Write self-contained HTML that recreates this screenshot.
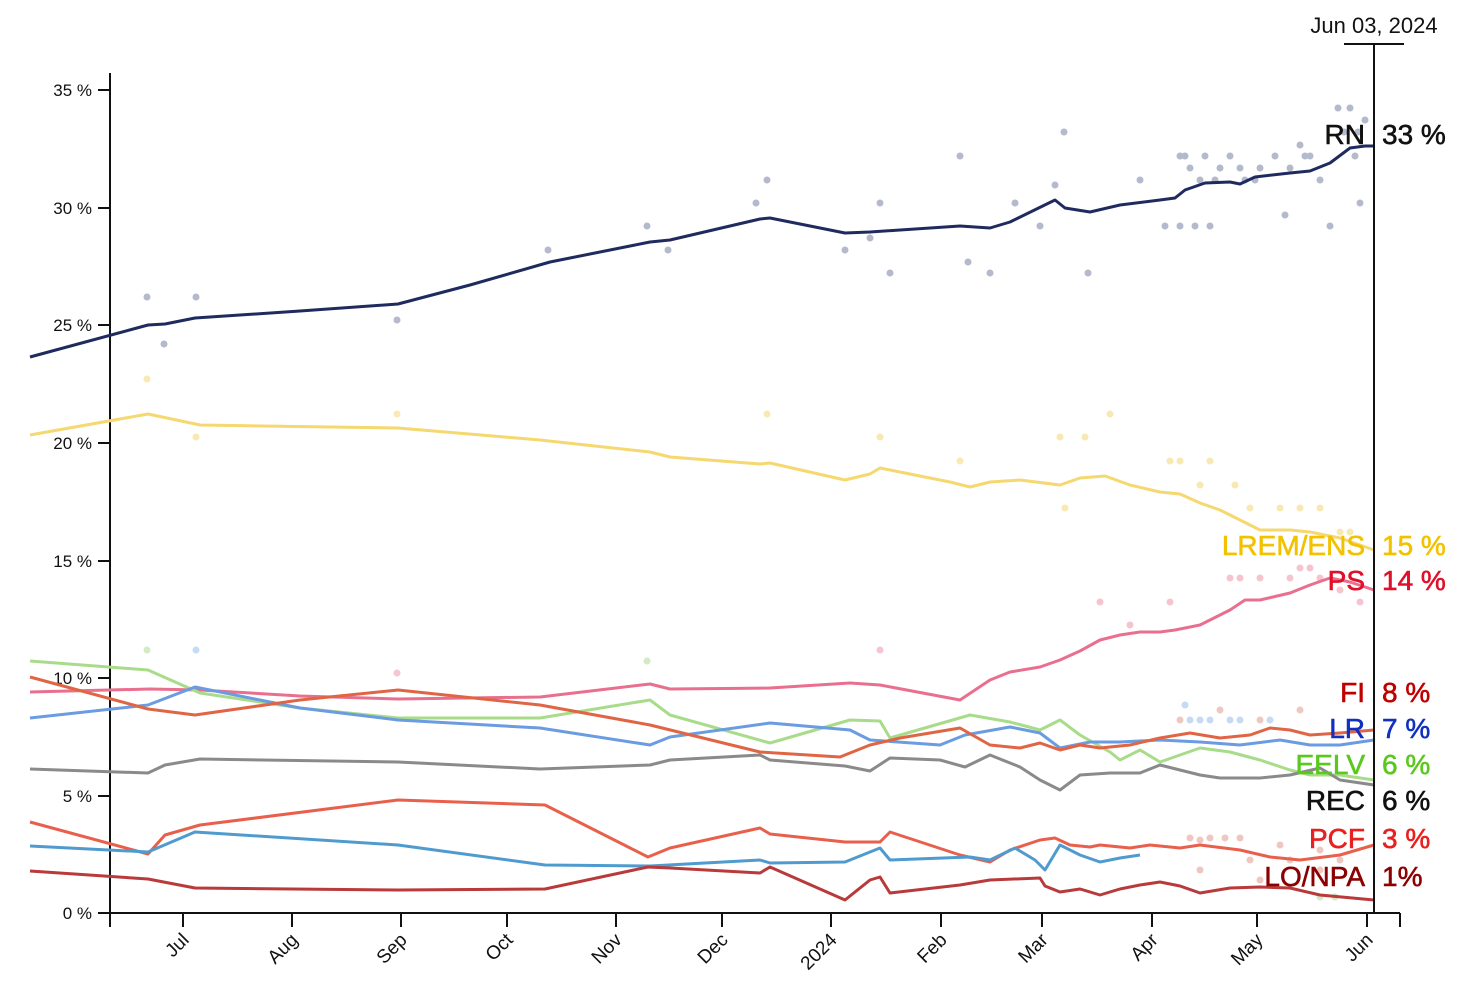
<!DOCTYPE html>
<html><head><meta charset="utf-8"><style>
body{margin:0;background:#fff;}
svg{display:block;font-family:"Liberation Sans",sans-serif;}
.yl{font-size:17px;text-anchor:end;fill:#111}
.xl{font-size:19px;text-anchor:end;fill:#111}
.ln{fill:none;stroke-width:3;stroke-linejoin:round}
.lab{font-size:28px;text-anchor:end;stroke-width:0.6}
.val{font-size:28px;stroke-width:0.6}
</style></head><body>
<svg width="1477" height="989" viewBox="0 0 1477 989">
<!-- dots -->
<g fill="#a9adc4" opacity="0.85">
<circle cx="147" cy="297" r="3.5"/><circle cx="164" cy="344" r="3.5"/><circle cx="196" cy="297" r="3.5"/><circle cx="397" cy="320" r="3.5"/><circle cx="548" cy="250" r="3.5"/><circle cx="647" cy="226" r="3.5"/><circle cx="668" cy="250" r="3.5"/><circle cx="756" cy="203" r="3.5"/><circle cx="767" cy="180" r="3.5"/><circle cx="845" cy="250" r="3.5"/><circle cx="870" cy="238" r="3.5"/><circle cx="880" cy="203" r="3.5"/><circle cx="890" cy="273" r="3.5"/><circle cx="960" cy="156" r="3.5"/><circle cx="968" cy="262" r="3.5"/><circle cx="990" cy="273" r="3.5"/><circle cx="1015" cy="203" r="3.5"/><circle cx="1040" cy="226" r="3.5"/><circle cx="1055" cy="185" r="3.5"/><circle cx="1064" cy="132" r="3.5"/><circle cx="1088" cy="273" r="3.5"/><circle cx="1140" cy="180" r="3.5"/><circle cx="1165" cy="226" r="3.5"/>
<circle cx="1180" cy="156" r="3.5"/><circle cx="1190" cy="168" r="3.5"/><circle cx="1200" cy="180" r="3.5"/><circle cx="1210" cy="226" r="3.5"/><circle cx="1220" cy="168" r="3.5"/><circle cx="1230" cy="156" r="3.5"/><circle cx="1245" cy="180" r="3.5"/><circle cx="1260" cy="168" r="3.5"/><circle cx="1275" cy="156" r="3.5"/><circle cx="1285" cy="215" r="3.5"/><circle cx="1300" cy="145" r="3.5"/><circle cx="1310" cy="156" r="3.5"/><circle cx="1330" cy="226" r="3.5"/><circle cx="1338" cy="108" r="3.5"/><circle cx="1350" cy="108" r="3.5"/><circle cx="1355" cy="156" r="3.5"/><circle cx="1360" cy="203" r="3.5"/><circle cx="1365" cy="120" r="3.5"/>
<circle cx="1185" cy="156" r="3.5"/><circle cx="1205" cy="156" r="3.5"/><circle cx="1215" cy="180" r="3.5"/><circle cx="1240" cy="168" r="3.5"/><circle cx="1255" cy="180" r="3.5"/><circle cx="1290" cy="168" r="3.5"/><circle cx="1305" cy="156" r="3.5"/><circle cx="1320" cy="180" r="3.5"/><circle cx="1344" cy="132" r="3.5"/><circle cx="1358" cy="132" r="3.5"/><circle cx="1195" cy="226" r="3.5"/><circle cx="1180" cy="226" r="3.5"/>
</g>
<g fill="#f7e3a0" opacity="0.8">
<circle cx="147" cy="379" r="3.5"/><circle cx="196" cy="437" r="3.5"/><circle cx="397" cy="414" r="3.5"/><circle cx="767" cy="414" r="3.5"/><circle cx="880" cy="437" r="3.5"/><circle cx="960" cy="461" r="3.5"/><circle cx="1110" cy="414" r="3.5"/><circle cx="1170" cy="461" r="3.5"/><circle cx="1200" cy="485" r="3.5"/><circle cx="1235" cy="485" r="3.5"/><circle cx="1280" cy="508" r="3.5"/><circle cx="1320" cy="508" r="3.5"/><circle cx="1350" cy="532" r="3.5"/>
<circle cx="1180" cy="461" r="3.5"/><circle cx="1210" cy="461" r="3.5"/><circle cx="1250" cy="508" r="3.5"/><circle cx="1300" cy="508" r="3.5"/><circle cx="1340" cy="532" r="3.5"/><circle cx="1060" cy="437" r="3.5"/><circle cx="1085" cy="437" r="3.5"/><circle cx="1065" cy="508" r="3.5"/>
</g>
<g fill="#f4b6c4" opacity="0.8">
<circle cx="1100" cy="602" r="3.5"/><circle cx="1130" cy="625" r="3.5"/><circle cx="1170" cy="602" r="3.5"/><circle cx="1230" cy="578" r="3.5"/><circle cx="1260" cy="578" r="3.5"/><circle cx="1300" cy="568" r="3.5"/><circle cx="1340" cy="590" r="3.5"/><circle cx="880" cy="650" r="3.5"/><circle cx="397" cy="673" r="3.5"/>
<circle cx="1240" cy="578" r="3.5"/><circle cx="1290" cy="578" r="3.5"/><circle cx="1310" cy="568" r="3.5"/><circle cx="1320" cy="578" r="3.5"/><circle cx="1360" cy="602" r="3.5"/>
</g>
<g fill="#e9b0a8" opacity="0.7">
<circle cx="1180" cy="720" r="3.5"/><circle cx="1220" cy="710" r="3.5"/><circle cx="1260" cy="720" r="3.5"/><circle cx="1300" cy="710" r="3.5"/><circle cx="1200" cy="840" r="3.5"/><circle cx="1240" cy="838" r="3.5"/><circle cx="1280" cy="845" r="3.5"/><circle cx="1320" cy="850" r="3.5"/><circle cx="1200" cy="870" r="3.5"/><circle cx="1260" cy="880" r="3.5"/><circle cx="1320" cy="870" r="3.5"/>
<circle cx="1190" cy="838" r="3.5"/><circle cx="1210" cy="838" r="3.5"/><circle cx="1225" cy="838" r="3.5"/><circle cx="1250" cy="860" r="3.5"/><circle cx="1290" cy="860" r="3.5"/><circle cx="1340" cy="860" r="3.5"/>
</g>
<g fill="#b8d2f2" opacity="0.8"><circle cx="1190" cy="720" r="3.5"/><circle cx="1230" cy="720" r="3.5"/><circle cx="1270" cy="720" r="3.5"/><circle cx="196" cy="650" r="3.5"/><circle cx="1200" cy="720" r="3.5"/><circle cx="1210" cy="720" r="3.5"/><circle cx="1240" cy="720" r="3.5"/><circle cx="1185" cy="705" r="3.5"/></g>
<g fill="#c8e6b4" opacity="0.8"><circle cx="147" cy="650" r="3.5"/><circle cx="647" cy="661" r="3.5"/><circle cx="1320" cy="897" r="3.5"/><circle cx="1335" cy="897" r="3.5"/></g>
<!-- axes -->
<g stroke="#111" stroke-width="2">
<line x1="110" y1="73" x2="110" y2="913"/><line x1="110" y1="913" x2="1400" y2="913"/>
<line x1="98" y1="913" x2="110" y2="913"/><line x1="98" y1="796" x2="110" y2="796"/><line x1="98" y1="678" x2="110" y2="678"/><line x1="98" y1="561" x2="110" y2="561"/><line x1="98" y1="443" x2="110" y2="443"/><line x1="98" y1="325" x2="110" y2="325"/><line x1="98" y1="208" x2="110" y2="208"/><line x1="98" y1="90" x2="110" y2="90"/>
<path d="M110 913v14M183 913v14M292 913v14M401 913v14M507 913v14M616 913v14M722 913v14M831 913v14M941 913v14M1042 913v14M1152 913v14M1257 913v14M1367 913v14M1400 913v14"/>
</g>
<g class="yl"><text x="92" y="919">0 %</text><text x="92" y="802">5 %</text><text x="92" y="684">10 %</text><text x="92" y="567">15 %</text><text x="92" y="449">20 %</text><text x="92" y="331">25 %</text><text x="92" y="214">30 %</text><text x="92" y="96">35 %</text></g>
<g class="xl">
<text transform="translate(190,941) rotate(-45)">Jul</text><text transform="translate(299,941) rotate(-45)">Aug</text><text transform="translate(408,941) rotate(-45)">Sep</text><text transform="translate(514,941) rotate(-45)">Oct</text><text transform="translate(623,941) rotate(-45)">Nov</text><text transform="translate(729,941) rotate(-45)">Dec</text><text transform="translate(838,941) rotate(-45)">2024</text><text transform="translate(948,941) rotate(-45)">Feb</text><text transform="translate(1049,941) rotate(-45)">Mar</text><text transform="translate(1159,941) rotate(-45)">Apr</text><text transform="translate(1264,941) rotate(-45)">May</text><text transform="translate(1374,941) rotate(-45)">Jun</text>
</g>
<!-- lines -->
<polyline class="ln" stroke="#f5d870" points="30,435 148,414 200,425 398,428 540,440 650,452 670,457 760,464 770,463 845,480 870,474 880,468 950,482 970,487 990,482 1020,480 1060,485 1080,478 1105,476 1130,485 1160,492 1180,494 1200,503 1220,510 1240,520 1260,530 1290,530 1310,532 1340,538 1374,550"/>
<polyline class="ln" stroke="#e8708e" points="30,692 150,689 200,690 300,696 398,699 540,697 650,684 670,689 770,688 850,683 880,685 960,700 990,680 1010,672 1040,667 1060,660 1080,651 1100,640 1120,635 1140,632 1160,632 1175,630 1200,625 1230,610 1245,600 1260,600 1290,593 1310,585 1330,578 1350,582 1374,590"/>
<polyline class="ln" stroke="#a8dc8a" points="30,661 148,670 200,693 300,708 398,718 540,718 650,700 670,715 770,743 850,720 880,721 890,738 970,715 1010,722 1040,730 1060,720 1080,735 1110,752 1120,760 1140,750 1160,762 1180,755 1200,748 1230,752 1260,760 1290,770 1310,775 1340,775 1374,780"/>
<polyline class="ln" stroke="#6b9be0" points="30,718 148,705 195,687 300,708 398,720 540,728 650,745 670,737 770,723 850,730 870,740 940,745 965,735 1010,727 1040,733 1060,748 1090,742 1120,742 1160,740 1200,742 1240,745 1280,740 1310,745 1340,745 1374,740"/>
<polyline class="ln" stroke="#e06545" points="30,677 148,709 195,715 300,700 398,690 540,705 650,725 760,752 840,757 870,745 900,738 960,728 990,745 1020,748 1040,743 1060,750 1080,745 1100,748 1130,745 1160,738 1190,733 1220,738 1250,735 1270,728 1290,730 1310,735 1340,733 1374,730"/>
<polyline class="ln" stroke="#8a8a8a" points="30,769 148,773 165,765 200,759 398,762 540,769 650,765 670,760 760,755 770,760 845,766 870,771 890,758 940,760 965,767 990,755 1020,767 1040,780 1060,790 1080,775 1110,773 1140,773 1160,765 1180,770 1200,775 1220,778 1260,778 1290,775 1320,768 1340,780 1374,785"/>
<polyline class="ln" stroke="#e8604c" points="30,822 148,854 165,835 200,825 398,800 545,805 648,857 670,848 760,828 770,834 845,842 880,842 890,832 960,855 990,862 1010,850 1040,840 1055,838 1070,845 1090,847 1100,845 1130,848 1150,845 1180,848 1200,845 1240,850 1270,857 1300,860 1340,855 1374,845"/>
<polyline class="ln" stroke="#4f9bd0" points="30,846 148,852 195,832 398,845 545,865 650,866 760,860 770,863 845,862 880,848 890,860 970,857 990,860 1015,848 1035,860 1045,870 1060,845 1080,855 1100,862 1120,858 1140,855"/>
<polyline class="ln" stroke="#b83a3a" points="30,871 148,879 195,888 398,890 545,889 648,867 670,868 760,873 770,867 845,900 870,880 880,877 890,893 960,885 990,880 1040,878 1045,886 1060,892 1080,889 1100,895 1120,889 1140,885 1160,882 1180,886 1200,893 1230,888 1260,887 1290,888 1320,895 1374,900"/>
<polyline class="ln" stroke="#1f2a5e" points="30,357 148,325 165,324 195,318 300,311 398,304 470,285 550,262 650,242 670,240 760,219 770,218 845,233 870,232 960,226 990,228 1010,222 1055,200 1065,208 1090,212 1120,205 1160,200 1175,198 1185,190 1205,183 1230,182 1240,184 1255,177 1290,173 1310,171 1330,163 1350,148 1365,146 1374,146"/>
<!-- cursor -->
<line x1="1374" y1="44" x2="1374" y2="913" stroke="#111" stroke-width="2"/>
<line x1="1344" y1="44" x2="1404" y2="44" stroke="#111" stroke-width="2"/>
<text x="1374" y="33" font-size="22" text-anchor="middle" fill="#111">Jun 03, 2024</text>
<!-- labels -->
<g>
<text class="lab" x="1365" y="144" fill="#111" stroke="#111">RN</text><text class="val" x="1382" y="144" fill="#111" stroke="#111">33 %</text>
<text class="lab" x="1365" y="555" fill="#f2c200" stroke="#f2c200">LREM/ENS</text><text class="val" x="1382" y="555" fill="#f2c200" stroke="#f2c200">15 %</text>
<text class="lab" x="1365" y="590" fill="#e0102a" stroke="#e0102a">PS</text><text class="val" x="1382" y="590" fill="#e0102a" stroke="#e0102a">14 %</text>
<text class="lab" x="1365" y="702" fill="#c00000" stroke="#c00000">FI</text><text class="val" x="1382" y="702" fill="#c00000" stroke="#c00000">8 %</text>
<text class="lab" x="1365" y="738" fill="#1030c0" stroke="#1030c0">LR</text><text class="val" x="1382" y="738" fill="#1030c0" stroke="#1030c0">7 %</text>
<text class="lab" x="1365" y="774" fill="#5ac81e" stroke="#5ac81e">EELV</text><text class="val" x="1382" y="774" fill="#5ac81e" stroke="#5ac81e">6 %</text>
<text class="lab" x="1365" y="810" fill="#111" stroke="#111">REC</text><text class="val" x="1382" y="810" fill="#111" stroke="#111">6 %</text>
<text class="lab" x="1365" y="848" fill="#e82020" stroke="#e82020">PCF</text><text class="val" x="1382" y="848" fill="#e82020" stroke="#e82020">3 %</text>
<text class="lab" x="1365" y="886" fill="#8b0000" stroke="#8b0000">LO/NPA</text><text class="val" x="1382" y="886" fill="#8b0000" stroke="#8b0000">1%</text>
</g>
</svg>
</body></html>
